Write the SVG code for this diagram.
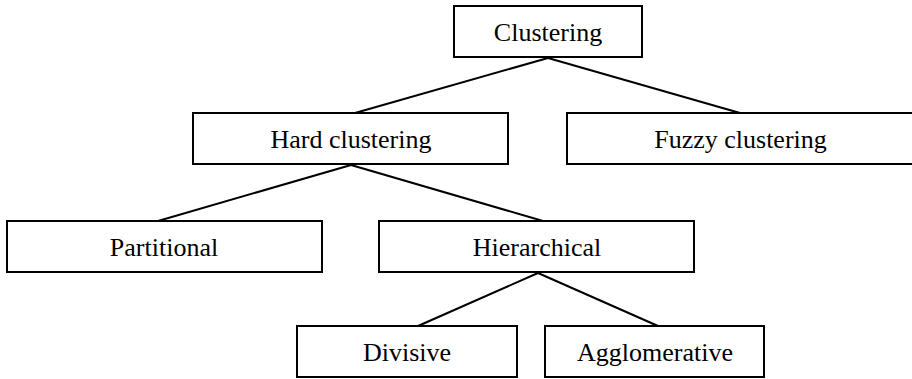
<svg xmlns="http://www.w3.org/2000/svg" width="912" height="379" viewBox="0 0 912 379">
<style>
rect{fill:#fff;stroke:#000;stroke-width:2}
text{font-family:"Liberation Serif","Times New Roman",serif;font-size:26px;fill:#000;text-anchor:middle}
line{stroke:#000;stroke-width:2}
</style>
<rect x="0" y="0" width="912" height="379" style="stroke:none"/>
<g id="connectors">
<line x1="548" y1="58" x2="355" y2="113"/>
<line x1="548" y1="58" x2="740" y2="113"/>
<line x1="351" y1="165" x2="158" y2="221"/>
<line x1="351" y1="165" x2="543" y2="221"/>
<line x1="538" y1="273" x2="418" y2="326"/>
<line x1="538" y1="273" x2="658" y2="326"/>
</g>
<g id="clustering"><rect x="454" y="6" width="188" height="51"/><text x="548" y="41">Clustering</text></g>
<g id="hard"><rect x="193" y="113" width="315" height="51"/><text x="351" y="148">Hard clustering</text></g>
<g id="fuzzy"><rect x="567" y="113" width="347" height="51"/><text x="740.5" y="148">Fuzzy clustering</text></g>
<g id="partitional"><rect x="7" y="221" width="315" height="51"/><text x="164" y="256">Partitional</text></g>
<g id="hierarchical"><rect x="379" y="221" width="315" height="51"/><text x="537" y="256">Hierarchical</text></g>
<g id="divisive"><rect x="297" y="326" width="220" height="51"/><text x="407" y="361">Divisive</text></g>
<g id="agglomerative"><rect x="545" y="326" width="219" height="51"/><text x="655" y="361">Agglomerative</text></g>
</svg>
